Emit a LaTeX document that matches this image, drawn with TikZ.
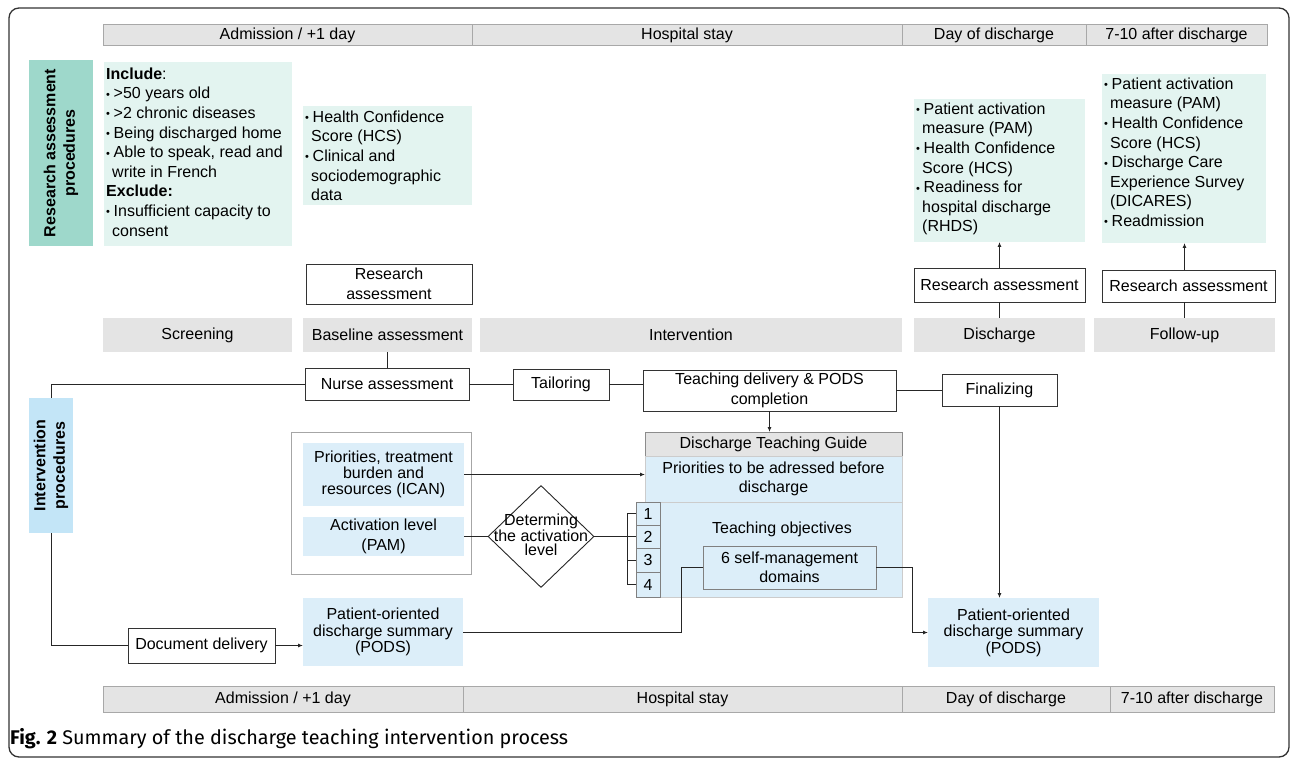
\documentclass[tikz,border=0pt]{standalone}
\usepackage{fontspec}
\setmainfont{Liberation Sans}
\newfontfamily\capfont{Fira Sans}
\usetikzlibrary{arrows.meta,shapes.geometric}
\definecolor{barg}{HTML}{E4E4E4}
\definecolor{bard}{HTML}{A8A8A8}
\definecolor{mintc}{HTML}{E3F4F0}
\definecolor{tealc}{HTML}{9ED8CB}
\definecolor{blueb}{HTML}{DCEEF9}
\definecolor{ivc}{HTML}{C3E5F7}
\newcommand\bul{\makebox[7.5pt][l]{\fontsize{11}{11}\selectfont\raisebox{0.5pt}{•}}}
\newcommand\ind{\hspace*{6pt}}
\newcommand\bx[7]{\node[#2, anchor=north west, inner sep=0pt, outer sep=0pt, align=center,
  minimum width={#5-#3}, minimum height={#6-#4}] (#1) at (#3,#4) {#7};}
\tikzset{
  conn/.style={draw=black!85, line width=0.9pt},
  arr/.style={conn, -{Latex[length=5pt,width=4pt]}},
  wbox/.style={draw=black!80, line width=0.9pt, fill=white},
  bar/.style={fill=barg, draw=bard, line width=1pt},
  stage/.style={fill=barg},
  mint/.style={fill=mintc},
  lblue/.style={fill=blueb},
  listtxt/.style={anchor=north west, align=left, inner sep=0pt, font=\fontsize{16}{19.6}\selectfont},
  vlab/.style={rotate=90, align=center, font=\bfseries\fontsize{16}{19.5}\selectfont},
}
\begin{document}
\begin{tikzpicture}[x=1pt,y=-1pt, every node/.append style={font=\fontsize{16}{19.5}\selectfont}]
\useasboundingbox (0,0) rectangle (1292,759);
\draw[line width=1.3pt, black!80, rounded corners=10pt] (9,8) rectangle (1289,757);

% top timeline
\bx{t1}{bar}{103}{25}{472}{46}{Admission / +1 day}
\bx{t2}{bar}{472}{25}{902}{46}{Hospital stay}
\bx{t3}{bar}{902}{25}{1086}{46}{Day of discharge}
\bx{t4}{bar}{1086}{25}{1267}{46}{7-10 after discharge}

% research assessment procedures
\bx{ralab}{fill=tealc}{29}{60}{93}{246}{}
\node[vlab] (ralabt) at (ralab.center) {Research assessment\\procedures};

\bx{incl}{mint}{104}{62}{292}{246}{}
\node[listtxt] (incltxt) at (106,67.5) {\textbf{Include}:\\
\bul>50 years old\\
\bul>2 chronic diseases\\
\bul Being discharged home\\
\bul Able to speak, read and\\
\ind write in French\\
\textbf{Exclude:}\\
\bul Insufficient capacity to\\
\ind consent};

\bx{hcs}{mint}{303}{106}{472}{205}{}
\node[listtxt] (hcstxt) at (305,110.5) {\bul Health Confidence\\
\ind Score (HCS)\\
\bul Clinical and\\
\ind sociodemographic\\
\ind data};

\bx{dres}{mint}{914}{99}{1085}{242}{}
\node[listtxt] (drestxt) at (916,102.5) {\bul Patient activation\\
\ind measure (PAM)\\
\bul Health Confidence\\
\ind Score (HCS)\\
\bul Readiness for\\
\ind hospital discharge\\
\ind (RHDS)};

\bx{fres}{mint}{1102}{74}{1266}{243}{}
\node[listtxt] (frestxt) at (1104,77.5) {\bul Patient activation\\
\ind measure (PAM)\\
\bul Health Confidence\\
\ind Score (HCS)\\
\bul Discharge Care\\
\ind Experience Survey\\
\ind (DICARES)\\
\bul Readmission};

\bx{rab}{wbox}{306}{264}{472}{304}{Research\\assessment}
\bx{rad}{wbox}{914}{268}{1085}{302}{Research assessment}
\bx{raf}{wbox}{1102}{270}{1275}{302}{Research assessment}

% stage bars
\bx{sscr}{stage}{103}{318}{292}{352}{Screening}
\bx{sbas}{stage}{303}{318}{472}{352}{Baseline assessment}
\bx{sint}{stage}{480}{318}{902}{352}{Intervention}
\bx{sdis}{stage}{914}{318}{1085}{352}{Discharge}
\bx{sfol}{stage}{1094}{318}{1275}{352}{Follow-up}

\draw[conn] (rad.south) -- (rad.south |- sdis.north);
\draw[arr] (rad.north) -- (rad.north |- dres.south);
\draw[conn] (sfol.north |- raf.south) -- (sfol.north);
\draw[arr] (sfol.north |- raf.north) -- (sfol.north |- fres.south);

% intervention row
\bx{nurse}{wbox}{305}{368}{469}{400}{Nurse assessment}
\bx{tail}{wbox}{513}{369}{609}{400}{Tailoring}
\bx{teach}{wbox}{643}{370}{896}{411}{\raisebox{-2pt}{Teaching delivery \& PODS}\\\raisebox{-2pt}{completion}}
\bx{fin}{wbox}{942}{374}{1057}{406}{Finalizing}
\draw[conn] (sbas.south) -- (sbas.south |- nurse.north);
\draw[conn] (nurse.east) -- (nurse.east -| tail.west);
\draw[conn] (tail.east) -- (tail.east -| teach.west);
\draw[conn] (fin.west) -- (fin.west -| teach.east);

\bx{ivlab}{fill=ivc}{29}{398}{73}{533}{}
\node[vlab] (ivlabt) at (ivlab.center) {Intervention\\procedures};

\bx{docd}{wbox}{128}{628}{275}{663}{Document delivery}
\bx{pods1}{lblue, font=\fontsize{16}{16.5}\selectfont}{303}{598}{463}{666}{Patient-oriented\\discharge summary\\(PODS)}
\draw[conn] (nurse.west) -| (ivlab.north);
\draw[conn] (ivlab.south) |- (docd.west);
\draw[arr] (docd.east) -- (docd.east -| pods1.west);

% group
\bx{grp}{draw=black!35, line width=1pt}{291}{432}{471}{574}{}
\bx{prio}{lblue, font=\fontsize{16}{16}\selectfont}{303}{443}{464}{506}{Priorities, treatment\\burden and\\resources (ICAN)}
\bx{act}{lblue, font=\fontsize{16}{20}\selectfont}{303}{517}{464}{556}{Activation level\\(PAM)}
\node[diamond, draw=black!85, line width=0.9pt, fill=white, minimum width=106pt, minimum height=102pt, inner sep=0pt] (dia) at (541,536.5) {};
\node[align=center, font=\fontsize{16}{14}\selectfont] (diat) at (541,535) {Determing\\the activation\\level};
\draw[conn] (act.east) -- (dia.west);

% discharge teaching guide
\bx{dtg}{draw=black!45, fill=barg, line width=1pt}{645}{432}{902}{456}{Discharge Teaching Guide}
\bx{ptba}{lblue, draw=black!20, line width=0.8pt}{645}{456}{902}{502}{Priorities to be adressed before\\discharge}
\bx{tobj}{lblue, draw=black!20, line width=0.8pt}{660}{502}{902}{597}{}
\node (tobjt) at (782,529) {Teaching objectives};
\bx{c1}{lblue, draw=black!50, line width=0.8pt}{636}{502}{660}{525}{1}
\bx{c2}{lblue, draw=black!50, line width=0.8pt}{636}{525}{660}{548}{2}
\bx{c3}{lblue, draw=black!50, line width=0.8pt}{636}{548}{660}{572}{3}
\bx{c4}{lblue, draw=black!50, line width=0.8pt}{636}{572}{660}{597}{4}
\bx{dom}{lblue, draw=black!50, line width=1pt}{703}{546}{876}{589}{6 self-management\\domains}
\draw[arr] (teach.south) -- (teach.south |- dtg.north);
\draw[arr] (prio.east) -- (prio.east -| ptba.west);

\coordinate (brk) at (627,536.5);
\draw[conn] (dia.east) -- (brk);
\draw[conn] (c1.west -| brk) -- (c4.west -| brk);
\foreach \c in {c1,c2,c3,c4} \draw[conn] (\c.west -| brk) -- (\c.west);

\bx{pods2}{lblue, font=\fontsize{16}{16.5}\selectfont}{928}{598}{1099}{667}{Patient-oriented\\discharge summary\\(PODS)}
\draw[conn] (dom.west) -- ++(-22,0) |- (pods1.east);
\draw[arr] (dom.east) -- ++(36,0) |- (pods2.west);
\draw[arr] (fin.south) -- (fin.south |- pods2.north);

% bottom timeline
\bx{b1}{bar}{103}{686}{463}{712}{Admission / +1 day}
\bx{b2}{bar}{463}{686}{902}{712}{Hospital stay}
\bx{b3}{bar}{902}{686}{1110}{712}{Day of discharge}
\bx{b4}{bar}{1110}{686}{1274}{712}{7-10 after discharge}

\node[anchor=west, inner sep=0pt, font=\capfont\fontsize{19.8}{22}\selectfont] (cap) at (10,739) {\textbf{Fig. 2} Summary of the discharge teaching intervention process};
\end{tikzpicture}
\end{document}
